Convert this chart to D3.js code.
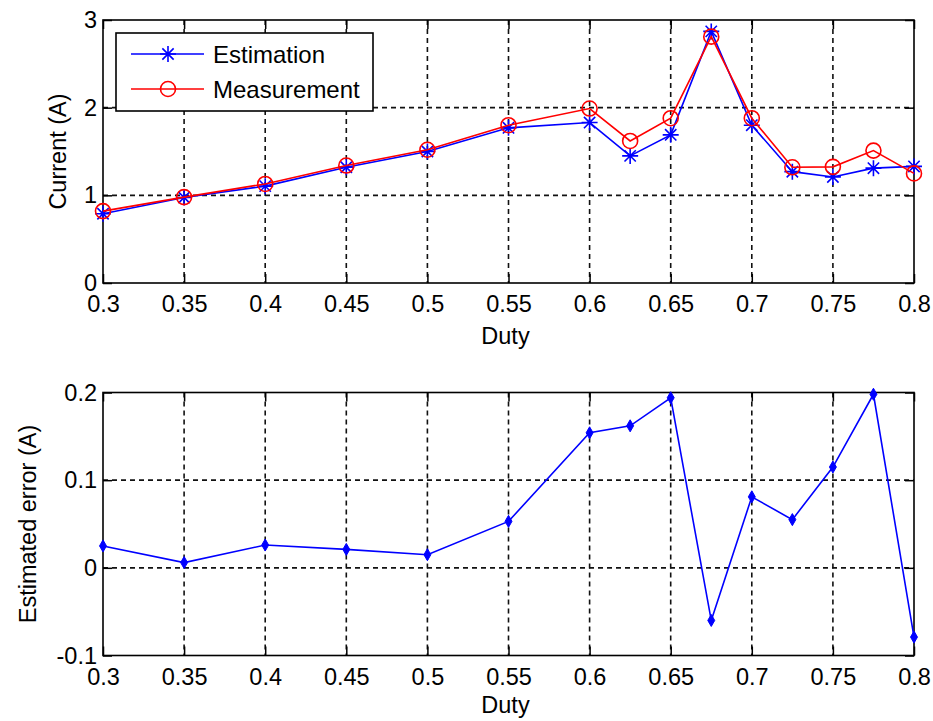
<!DOCTYPE html>
<html>
<head>
<meta charset="utf-8">
<script src="https://cdn.jsdelivr.net/npm/d3@7"></script>
<style>
  html, body { margin: 0; padding: 0; background: #fff; }
  svg { display: block; }
  text { font-family: "Liberation Sans", Arial, sans-serif; fill: #000; }
</style>
</head>
<body>
<svg id="chart" width="933" height="721"></svg>
<script>
// Duty-cycle sweep points
const duty = [0.3, 0.35, 0.4, 0.45, 0.5, 0.55, 0.6, 0.625, 0.65, 0.675, 0.7, 0.725, 0.75, 0.775, 0.8];
// Current (A)
const estimation  = [0.79, 0.975, 1.105, 1.32, 1.50, 1.77, 1.83, 1.45, 1.69, 2.87, 1.80, 1.27, 1.21, 1.31, 1.33];
const measurement = [0.82, 0.98, 1.13, 1.34, 1.52, 1.80, 1.99, 1.62, 1.88, 2.81, 1.88, 1.32, 1.325, 1.51, 1.25];
// Estimated error (A)
const estError = [0.025, 0.006, 0.026, 0.021, 0.015, 0.053, 0.154, 0.162, 0.194, -0.060, 0.081, 0.055, 0.115, 0.198, -0.079];

// Tick values
const dutyTicks = [0.3, 0.35, 0.4, 0.45, 0.5, 0.55, 0.6, 0.65, 0.7, 0.75, 0.8];
const currentTicks = [0, 1, 2, 3];
const errorTicks = [-0.1, 0, 0.1, 0.2];

const svg = d3.select("#chart");
const FONT = 23.5;
const left = 103, right = 914;

const x = d3.scaleLinear().domain([0.3, 0.8]).range([left, right]);

function panel(opts) {
  const { top, bottom, y, yTicks, yFmt, yLabel, yLabelX, xLabelY } = opts;
  const g = svg.append("g");

  // dashed grid at interior ticks
  g.selectAll(".gx").data(dutyTicks.slice(1, -1)).enter().append("line")
    .attr("x1", d => x(d)).attr("x2", d => x(d))
    .attr("y1", top).attr("y2", bottom)
    .attr("stroke", "#111").attr("stroke-width", 1.6)
    .attr("stroke-dasharray", "5,4");
  g.selectAll(".gy").data(yTicks.slice(1, -1)).enter().append("line")
    .attr("x1", left).attr("x2", right)
    .attr("y1", d => y(d)).attr("y2", d => y(d))
    .attr("stroke", "#111").attr("stroke-width", 1.6)
    .attr("stroke-dasharray", "5,4");

  // axes with inward ticks on all four sides
  const ax = (gen, tx, ty, labels) => {
    const a = g.append("g").attr("transform", `translate(${tx},${ty})`).call(gen);
    a.select(".domain").remove();
    a.selectAll(".tick line").attr("stroke", "#000").attr("stroke-width", 1.5);
    a.selectAll(".tick text").style("font-size", FONT + "px")
      .style("font-family", '"Liberation Sans", Arial, sans-serif').attr("fill", "#000");
    if (!labels) a.selectAll(".tick text").remove();
    return a;
  };
  ax(d3.axisBottom(x).tickValues(dutyTicks).tickFormat(d3.format("")).tickSize(-9).tickPadding(12.5), 0, bottom, true);
  ax(d3.axisTop(x).tickValues(dutyTicks).tickSize(-9), 0, top, false);
  ax(d3.axisLeft(y).tickValues(yTicks).tickFormat(yFmt).tickSize(-9).tickPadding(6), left, 0, true);
  ax(d3.axisRight(y).tickValues(yTicks).tickSize(-9), right, 0, false);

  // box
  g.append("rect").attr("x", left).attr("y", top)
    .attr("width", right - left).attr("height", bottom - top)
    .attr("fill", "none").attr("stroke", "#000").attr("stroke-width", 1.6);

  // axis titles
  g.append("text").attr("x", (left + right) / 2 - 3).attr("y", xLabelY)
    .attr("text-anchor", "middle").style("font-size", FONT + "px").text("Duty");
  g.append("text")
    .attr("transform", `translate(${yLabelX},${(top + bottom) / 2}) rotate(-90)`)
    .attr("text-anchor", "middle").style("font-size", FONT + "px").text(yLabel);
  return g;
}

// ---- Upper panel: current ----
const yTop = d3.scaleLinear().domain([0, 3]).range([283, 20]);
const gTop = panel({ top: 20, bottom: 283, y: yTop, yTicks: currentTicks,
  yFmt: d3.format("d"), yLabel: "Current (A)", yLabelX: 66, xLabelY: 344 });

const starPath = r => {
  const d = r * Math.SQRT1_2;
  return `M0,${-r}L0,${r}M${-r},0L${r},0M${-d},${-d}L${d},${d}M${-d},${d}L${d},${-d}`;
};

const lineTop = (vals) => d3.line().x((d, i) => x(duty[i])).y(d => yTop(d))(vals);

gTop.append("path").attr("d", lineTop(estimation))
  .attr("fill", "none").attr("stroke", "#0000ff").attr("stroke-width", 1.6);
gTop.selectAll(".star").data(estimation).enter().append("path")
  .attr("transform", (d, i) => `translate(${x(duty[i])},${yTop(d)})`)
  .attr("d", starPath(8)).attr("fill", "none")
  .attr("stroke", "#0000ff").attr("stroke-width", 1.6);

gTop.append("path").attr("d", lineTop(measurement))
  .attr("fill", "none").attr("stroke", "#ff0000").attr("stroke-width", 1.6);
gTop.selectAll(".circ").data(measurement).enter().append("circle")
  .attr("cx", (d, i) => x(duty[i])).attr("cy", d => yTop(d)).attr("r", 7.5)
  .attr("fill", "none").attr("stroke", "#ff0000").attr("stroke-width", 1.6);

// legend
const legend = gTop.append("g");
legend.append("rect").attr("x", 116).attr("y", 33).attr("width", 257).attr("height", 78)
  .attr("fill", "#fff").attr("stroke", "#000").attr("stroke-width", 1.6);
const entries = [
  { name: "Estimation", color: "#0000ff", y: 54, marker: "star" },
  { name: "Measurement", color: "#ff0000", y: 89, marker: "circle" }
];
entries.forEach(e => {
  legend.append("line").attr("x1", 131).attr("x2", 204).attr("y1", e.y).attr("y2", e.y)
    .attr("stroke", e.color).attr("stroke-width", 1.6);
  if (e.marker === "star") {
    legend.append("path").attr("transform", `translate(168,${e.y})`).attr("d", starPath(8))
      .attr("fill", "none").attr("stroke", e.color).attr("stroke-width", 1.6);
  } else {
    legend.append("circle").attr("cx", 168).attr("cy", e.y).attr("r", 7.5)
      .attr("fill", "none").attr("stroke", e.color).attr("stroke-width", 1.6);
  }
  legend.append("text").attr("x", 213).attr("y", e.y + 9)
    .style("font-size", "24px").text(e.name);
});

// ---- Lower panel: estimated error ----
const yBot = d3.scaleLinear().domain([-0.1, 0.2]).range([655.5, 392.5]);
const gBot = panel({ top: 392.5, bottom: 655.5, y: yBot, yTicks: errorTicks,
  yFmt: d => d3.format(".1f")(d).replace("0.0", "0").replace("−", "-"),
  yLabel: "Estimated error (A)", yLabelX: 36, xLabelY: 713 });

gBot.append("path")
  .attr("d", d3.line().x((d, i) => x(duty[i])).y(d => yBot(d))(estError))
  .attr("fill", "none").attr("stroke", "#0000ff").attr("stroke-width", 1.6);
gBot.selectAll(".dot").data(estError).enter().append("path")
  .attr("transform", (d, i) => `translate(${x(duty[i])},${yBot(d)})`)
  .attr("d", d3.symbol().type(d3.symbolDiamond).size(42)())
  .attr("fill", "#0000ff").attr("stroke", "#0000ff").attr("stroke-width", 1);
</script>
</body>
</html>
